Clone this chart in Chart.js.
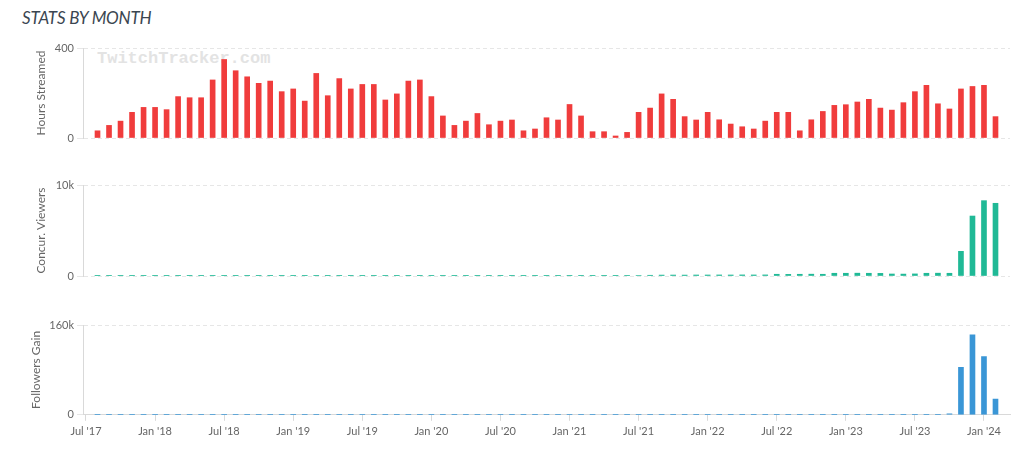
<!DOCTYPE html>
<html>
<head>
<meta charset="utf-8">
<script src="https://cdn.jsdelivr.net/npm/chart.js@4.4.1/dist/chart.umd.min.js"></script>
<style>
  html, body { margin: 0; padding: 0; background: #fff; width: 1024px; height: 456px; overflow: hidden; }
  h2 { position: absolute; left: 22px; top: 7px; margin: 0; font: italic 400 17px Lato, sans-serif; color: #3b4651; letter-spacing: -0.2px; }
  .panel { position: absolute; }
  .wm { position: absolute; left: 97px; top: 49px; font: bold 17px 'Liberation Mono', monospace; color: #e3e3e3; }
</style>
</head>
<body>
<h2>STATS BY MONTH</h2>
<div class="wm">TwitchTracker.com</div>
<div class="panel" style="left:30px;top:38px"><canvas id="hours" width="984" height="110"></canvas></div>
<div class="panel" style="left:30px;top:175px"><canvas id="viewers" width="984" height="111"></canvas></div>
<div class="panel" style="left:25px;top:315px"><canvas id="followers" width="989" height="141"></canvas></div>
<script>
// months shown as bars, Aug 2017 .. Feb 2024
const months = [
  '2017-08','2017-09','2017-10','2017-11','2017-12',
  '2018-01','2018-02','2018-03','2018-04','2018-05','2018-06','2018-07','2018-08','2018-09','2018-10','2018-11','2018-12',
  '2019-01','2019-02','2019-03','2019-04','2019-05','2019-06','2019-07','2019-08','2019-09','2019-10','2019-11','2019-12',
  '2020-01','2020-02','2020-03','2020-04','2020-05','2020-06','2020-07','2020-08','2020-09','2020-10','2020-11','2020-12',
  '2021-01','2021-02','2021-03','2021-04','2021-05','2021-06','2021-07','2021-08','2021-09','2021-10','2021-11','2021-12',
  '2022-01','2022-02','2022-03','2022-04','2022-05','2022-06','2022-07','2022-08','2022-09','2022-10','2022-11','2022-12',
  '2023-01','2023-02','2023-03','2023-04','2023-05','2023-06','2023-07','2023-08','2023-09','2023-10','2023-11','2023-12',
  '2024-01','2024-02'
];

const hoursStreamed = [
  32, 56, 75, 114, 136,
  136, 126, 184, 179, 179, 258, 349, 299, 272, 243, 253, 206,
  218, 164, 287, 188, 264, 218, 238, 238, 169, 196, 253, 258,
  184, 98, 56, 75, 109, 59, 75, 80, 32, 40, 90, 80,
  149, 98, 28, 28, 9, 25, 114, 133, 196, 172, 95, 80,
  114, 81, 62, 50, 40, 75, 114, 114, 32, 81, 118, 145,
  148, 160, 172, 133, 124, 157, 206, 234, 152, 129, 218, 229,
  234, 95
];

const concurViewers = [
  20, 25, 25, 30, 25,
  30, 25, 25, 30, 30, 35, 30, 30, 25, 30, 30, 25,
  25, 30, 30, 25, 25, 20, 25, 30, 25, 20, 25, 30,
  25, 30, 30, 25, 25, 20, 25, 20, 25, 30, 25, 20,
  25, 30, 30, 30, 35, 40, 60, 80, 100, 105, 100, 110,
  110, 115, 110, 120, 115, 120, 190, 180, 190, 200, 190, 300,
  300, 310, 300, 290, 220, 210, 230, 300, 310, 300, 2714, 6590,
  8280, 7990
];

const followersGain = [
  2, 3, 3, 4, 4,
  4, 3, 5, 4, 5, 6, 8, 7, 6, 5, 6, 5,
  5, 4, 6, 5, 6, 5, 5, 6, 4, 5, 6, 6,
  5, 3, 2, 3, 4, 2, 3, 3, 2, 2, 4, 3,
  4, 3, 2, 2, 1, 2, 4, 4, 6, 5, 4, 3,
  4, 3, 2, 2, 2, 3, 4, 4, 2, 3, 4, 5,
  5, 6, 6, 5, 5, 6, 7, 8, 9, 1800, 84500, 142600,
  103600, 28000
];

const tickLabels = ["Jul '17", "Jan '18", "Jul '18", "Jan '19", "Jul '19", "Jan '20", "Jul '20",
                    "Jan '21", "Jul '21", "Jan '22", "Jul '22", "Jan '23", "Jul '23", "Jan '24"];

Chart.defaults.font.family = 'Lato';
Chart.defaults.color = '#666';

// month offset from Jul 2017
function monthIndex(m) {
  const [y, mo] = m.split('-').map(Number);
  return (y - 2017) * 12 + (mo - 1) - 6;
}

function makeChart(id, values, color, title, yMax, yLabel, axisWidth, showX, padBottom) {
  const points = months.map((m, i) => ({ x: monthIndex(m), y: values[i] }));
  return new Chart(document.getElementById(id), {
    type: 'bar',
    data: {
      datasets: [{
        data: points,
        backgroundColor: color,
        barThickness: 5
      }]
    },
    options: {
      responsive: false,
      animation: false,
      layout: { padding: { top: 10, bottom: padBottom, left: 0, right: 4 } },
      plugins: { legend: { display: false }, tooltip: { enabled: false } },
      scales: {
        x: {
          type: 'linear',
          display: showX,
          offset: false,
          min: -0.26,
          max: 80.26,
          afterBuildTicks: s => { s.ticks = tickLabels.map((t, i) => ({ value: i * 6 })); },
          ticks: {
            autoSkip: false,
            maxRotation: 0,
            padding: 4,
            font: { size: 11 },
            color: '#666',
            callback: v => tickLabels[Math.round(v / 6)]
          },
          grid: { offset: false, drawOnChartArea: false, tickLength: 6, color: '#d9d9d9' },
          border: { color: '#d9d9d9' }
        },
        y: {
          min: 0,
          max: yMax,
          afterFit: s => { s.width = axisWidth; },
          afterBuildTicks: s => { s.ticks = [{ value: 0 }, { value: yMax }]; },
          ticks: {
            font: { size: 11 },
            color: '#666',
            padding: 3,
            callback: v => v === 0 ? '0' : yLabel
          },
          grid: { color: '#e6e6e6', tickLength: 6 },
          border: { display: true, color: '#d9d9d9', dash: [4, 3] },
          title: { display: true, text: title, color: '#666', font: { size: 12 }, padding: { top: 4, bottom: 4 } }
        }
      }
    }
  });
}

makeChart('hours', hoursStreamed, '#f03c3c', 'Hours Streamed', 400, '400', 53, false, 10);
makeChart('viewers', concurViewers, '#20b996', 'Concur. Viewers', 10000, '10k', 53, false, 10);
makeChart('followers', followersGain, '#3a96d6', 'Followers Gain', 160000, '160k', 58, true, 14);
</script>
</body>
</html>
